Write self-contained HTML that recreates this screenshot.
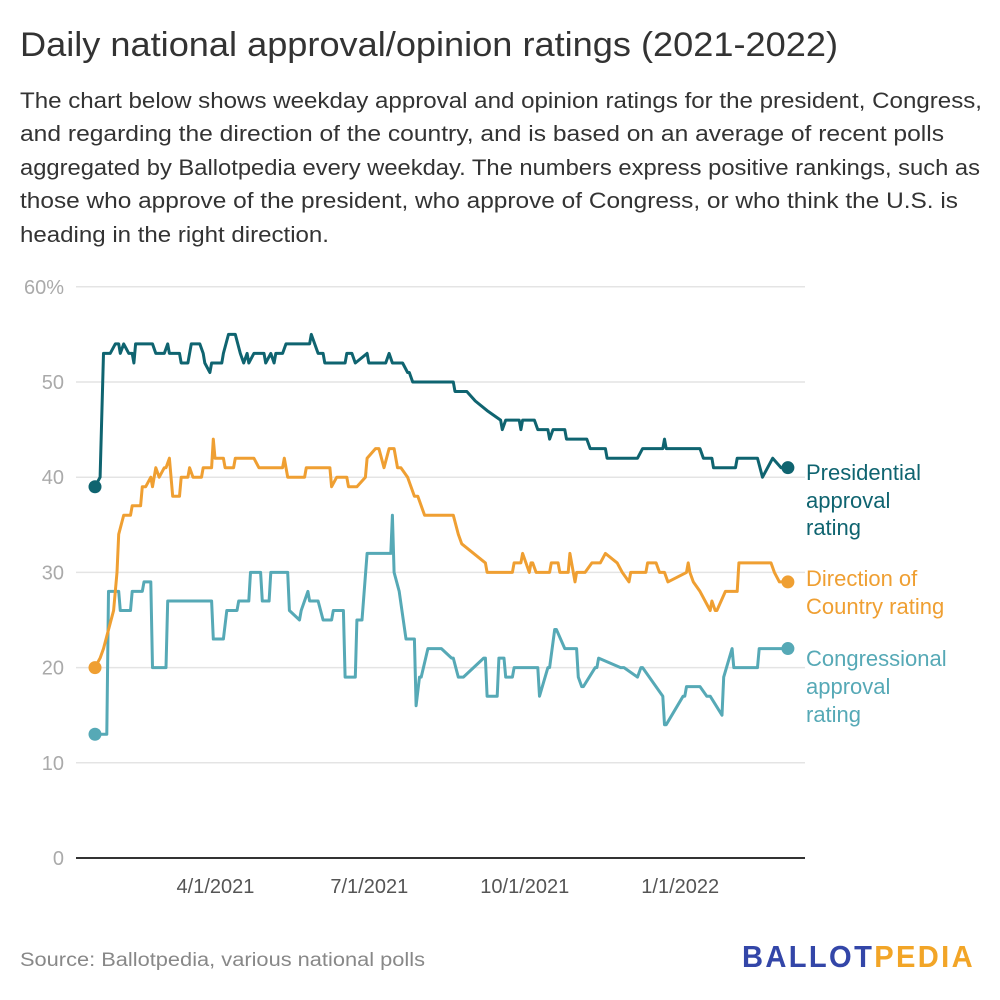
<!DOCTYPE html>
<html><head><meta charset="utf-8"><style>
html,body{margin:0;padding:0;background:#fff;}
svg{display:block;font-family:"Liberation Sans",Arial,sans-serif;}
</style></head><body>
<svg id="chart" width="1000" height="1000" viewBox="0 0 1000 1000">
<text x="20" y="56" font-size="34" fill="#333" textLength="818" lengthAdjust="spacingAndGlyphs">Daily national approval/opinion ratings (2021-2022)</text>
<g font-size="22" fill="#333">
<text x="20" y="108" textLength="962" lengthAdjust="spacingAndGlyphs">The chart below shows weekday approval and opinion ratings for the president, Congress,</text>
<text x="20" y="141" textLength="924" lengthAdjust="spacingAndGlyphs">and regarding the direction of the country, and is based on an average of recent polls</text>
<text x="20" y="175" textLength="960" lengthAdjust="spacingAndGlyphs">aggregated by Ballotpedia every weekday. The numbers express positive rankings, such as</text>
<text x="20" y="208" textLength="938" lengthAdjust="spacingAndGlyphs">those who approve of the president, who approve of Congress, or who think the U.S. is</text>
<text x="20" y="242" textLength="309" lengthAdjust="spacingAndGlyphs">heading in the right direction.</text>
</g>
<g id="grid"></g>
<g id="yticks" font-size="20" fill="#aaa" text-anchor="end"></g>
<g id="xticks" font-size="20" fill="#555" text-anchor="middle"></g>
<line x1="76" x2="805" y1="858" y2="858" stroke="#333" stroke-width="2"/>
<g id="series"></g>
<g font-size="22">
<text x="806" fill="#0f6470"><tspan x="806" y="480">Presidential</tspan><tspan x="806" y="508">approval</tspan><tspan x="806" y="535">rating</tspan></text>
<text x="806" fill="#ef9f32"><tspan x="806" y="586">Direction of</tspan><tspan x="806" y="614">Country rating</tspan></text>
<text x="806" fill="#56a9b6"><tspan x="806" y="666">Congressional</tspan><tspan x="806" y="694">approval</tspan><tspan x="806" y="722">rating</tspan></text>
</g>
<text x="20" y="966" font-size="19" fill="#888" textLength="405" lengthAdjust="spacingAndGlyphs">Source: Ballotpedia, various national polls</text>
<text x="742" y="967" font-size="31" font-weight="bold" letter-spacing="2.5" textLength="233" lengthAdjust="spacingAndGlyphs"><tspan fill="#3346a8">BALLOT</tspan><tspan fill="#f2a527">PEDIA</tspan></text>
</svg>
<script>
// days since Jan 20, 2021
const yTicks = [0,10,20,30,40,50,60];
const yTickLabels = ["0","10","20","30","40","50","60%"];
const xTickDays = [71,162,254,346];
const xTickLabels = ["4/1/2021","7/1/2021","10/1/2021","1/1/2022"];

const presDays = [0,3,5,9,12,14,15,17,20,22,23,24,27,34,36,41,43,44,50,51,55,56,57,62,64,65,68,69,75,76,79,83,86,88,90,91,94,100,101,104,106,107,111,113,127,128,132,135,136,148,149,152,154,161,162,172,174,176,182,185,186,188,191,212,213,220,225,232,240,241,243,251,252,253,260,262,268,269,271,278,279,291,293,302,303,321,324,336,337,338,358,360,365,366,371,379,380,392,395,401,406,410];
const presVals = [39,40,53,53,54,54,53,54,53,53,52,54,54,54,53,53,54,53,53,52,52,53,54,54,53,52,51,52,52,53,55,55,53,52,53,52,53,53,52,53,52,53,53,54,54,55,53,53,52,52,53,53,52,53,52,52,53,52,52,51,51,50,50,50,49,49,48,47,46,45,46,46,45,46,46,45,45,44,45,45,44,44,43,43,42,42,43,43,44,43,43,42,42,41,41,41,42,42,40,42,41,41];

const dirDays = [0,3,5,11,13,14,17,21,22,27,28,30,33,34,36,38,41,42,44,46,50,51,55,56,58,63,64,69,70,71,76,77,82,83,94,97,111,112,114,124,125,139,140,143,149,150,155,160,161,166,168,171,174,177,179,181,185,189,191,193,195,198,212,215,217,231,232,247,248,252,253,257,258,259,261,261,262,269,270,274,275,280,281,284,285,290,294,299,302,309,312,316,317,326,327,332,334,337,339,350,351,352,354,358,364,365,367,368,373,374,380,381,400,402,405,408,410];
const dirVals = [20,21,22,26,30,34,36,36,37,37,39,39,40,39,41,40,41,41,42,38,38,40,40,41,40,40,41,41,44,42,42,41,41,42,42,41,41,42,40,40,41,41,39,40,40,39,39,40,42,43,43,41,43,43,41,41,40,38,38,37,36,36,36,34,33,31,30,30,31,31,32,30,31,31,30,30,30,30,31,31,30,30,32,29,30,30,31,31,32,31,30,29,30,30,31,31,30,30,29,30,31,30,29,28,26,27,26,26,28,28,28,31,31,30,29,29,29];

const conDays = [0,7,8,14,15,21,22,28,29,33,34,42,43,69,70,76,78,84,85,91,92,98,99,103,104,114,115,121,122,126,127,132,135,140,141,147,148,154,155,158,161,175,176,176,177,180,184,189,190,192,193,197,198,205,211,212,215,218,230,231,232,238,239,242,243,247,248,262,263,268,269,272,273,278,279,285,286,288,289,296,297,298,311,313,321,323,324,336,337,338,348,349,350,351,358,362,364,371,372,377,378,392,393,403,404,405,406,407,409,410];
const conVals = [13,13,28,28,26,26,28,28,29,29,20,20,27,27,23,23,26,26,27,27,30,30,27,27,30,30,26,25,26,28,27,27,25,25,26,26,19,19,25,25,32,32,36,36,30,28,23,23,16,19,19,22,22,22,21,21,19,19,21,21,17,17,21,21,19,19,20,20,17,20,20,24,24,22,22,22,19,18,18,20,20,21,20,20,19,20,20,17,14,14,17,17,18,18,18,17,17,15,19,22,20,20,22,22,22,22,22,22,22,22];

const X0 = 95, PX_PER_DAY = 1.69, Y0 = 858, PX_PER_UNIT = 9.52;
function xScale(d){ return X0 + d * PX_PER_DAY; }
function yScale(v){ return Y0 - v * PX_PER_UNIT; }
const NS = "http://www.w3.org/2000/svg";
const grid = document.getElementById('grid');
const yt = document.getElementById('yticks');
yTicks.forEach((t,i)=>{
  if (t > 0) {
    const l = document.createElementNS(NS,'line');
    l.setAttribute('x1',76); l.setAttribute('x2',805);
    l.setAttribute('y1',yScale(t)); l.setAttribute('y2',yScale(t));
    l.setAttribute('stroke','#e4e4e4'); l.setAttribute('stroke-width','1.5');
    
    
    grid.appendChild(l);
  }
  const tx = document.createElementNS(NS,'text');
  tx.setAttribute('x',64); tx.setAttribute('y',yScale(t)+7);
  tx.textContent = yTickLabels[i];
  
  
  yt.appendChild(tx);
});
const xt = document.getElementById('xticks');
xTickDays.forEach((d,i)=>{
  const tx = document.createElementNS(NS,'text');
  tx.setAttribute('x',xScale(d)+0.5); tx.setAttribute('y',893);
  tx.textContent = xTickLabels[i];
  
  
  xt.appendChild(tx);
});
const sg = document.getElementById('series');
function drawSeries(days, vals, color, name){
  const p = document.createElementNS(NS,'polyline');
  p.setAttribute('points', days.map((d,i)=>xScale(d).toFixed(1)+','+yScale(vals[i]).toFixed(1)).join(' '));
  p.setAttribute('fill','none'); p.setAttribute('stroke',color);
  p.setAttribute('stroke-width','3'); p.setAttribute('stroke-linejoin','round');
  
  
  sg.appendChild(p);
  [0, days.length-1].forEach(i=>{
    const c = document.createElementNS(NS,'circle');
    c.setAttribute('cx',xScale(days[i])); c.setAttribute('cy',yScale(vals[i]));
    c.setAttribute('r',6.5); c.setAttribute('fill',color);
    
    
    sg.appendChild(c);
  });
}
drawSeries(conDays, conVals, '#56a9b6', 'congressional');
drawSeries(dirDays, dirVals, '#ef9f32', 'direction');
drawSeries(presDays, presVals, '#0f6470', 'presidential');
</script>
</body></html>
